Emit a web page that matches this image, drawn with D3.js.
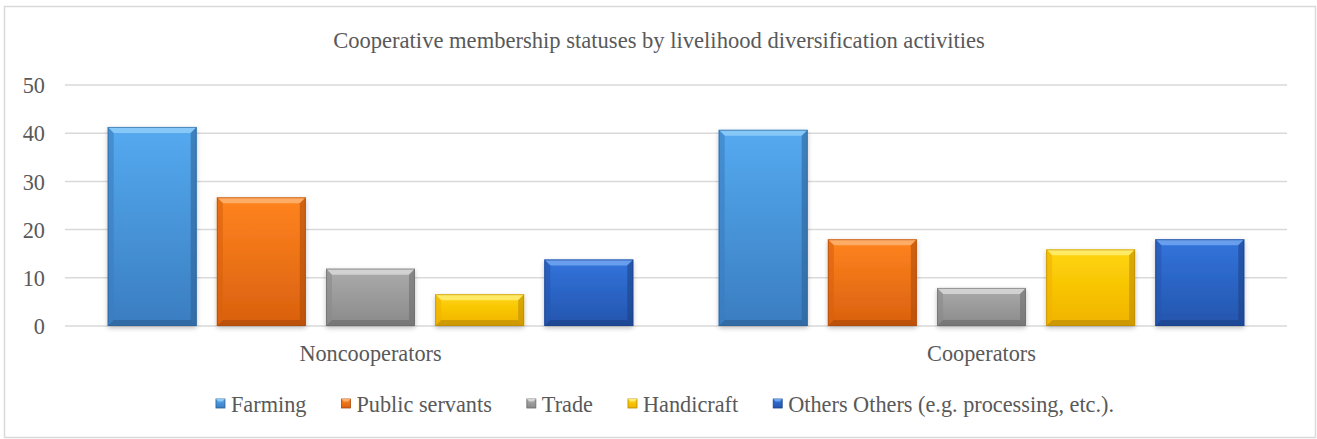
<!DOCTYPE html>
<html><head><meta charset="utf-8">
<script src="https://cdn.jsdelivr.net/npm/d3@7"></script>
<style>html,body{margin:0;padding:0;background:#fff;}svg{display:block;}</style>
</head><body>
<svg id="c" width="1317" height="439"></svg>
<script>
const title = "Cooperative membership statuses by livelihood diversification activities";
const categories = ["Noncooperators", "Cooperators"];
const seriesNames = ["Farming", "Public servants", "Trade", "Handicraft", "Others Others (e.g. processing, etc.)."];
const farming = [41.3, 40.7];
const publicServants = [26.7, 18.0];
const trade = [11.9, 7.9];
const handicraft = [6.6, 15.9];
const others = [13.8, 18.0];
const yTicks = [0, 10, 20, 30, 40, 50];
const seriesValues = [farming, publicServants, trade, handicraft, others];
const colors = [
  {top:"#55AAF0", bot:"#3A7DC0", light:"#8CCBF8", dark:"#2C5F93"},
  {top:"#FF841F", bot:"#D9600E", light:"#FFB070", dark:"#A8480A"},
  {top:"#ABABAB", bot:"#8A8A8A", light:"#D6D6D6", dark:"#6A6A6A"},
  {top:"#FFD60A", bot:"#F0B300", light:"#FFEC70", dark:"#B88700"},
  {top:"#3274DC", bot:"#2455AD", light:"#6EA3EE", dark:"#1B4083"}
];

const FONT = "'Liberation Serif', 'DejaVu Serif', serif";
const TXT = "#595959";
const svg = d3.select("#c");
const defs = svg.append("defs");

colors.forEach((c,i)=>{
  const g = defs.append("linearGradient").attr("id","g"+i).attr("x1",0).attr("y1",0).attr("x2",0).attr("y2",1);
  g.append("stop").attr("offset","0%").attr("stop-color",c.top);
  g.append("stop").attr("offset","100%").attr("stop-color",c.bot);
});
const f = defs.append("filter").attr("id","sh").attr("x","-20%").attr("y","-20%").attr("width","140%").attr("height","140%");
f.append("feGaussianBlur").attr("in","SourceAlpha").attr("stdDeviation",2.5);
f.append("feOffset").attr("dx",0).attr("dy",2).attr("result","b");
f.append("feComponentTransfer").append("feFuncA").attr("type","linear").attr("slope",0.25);
const fm = f.append("feMerge"); fm.append("feMergeNode"); fm.append("feMergeNode").attr("in","SourceGraphic");

// chart border
svg.append("rect").attr("x",4.5).attr("y",6.5).attr("width",1311).attr("height",431)
  .attr("fill","#fff").attr("stroke","#D9D9D9").attr("stroke-width",1.5);

// helper to fit text width
function fitSize(text, target, base){
  const t = svg.append("text").attr("font-family",FONT).attr("font-size",base).text(text);
  const w = t.node().getComputedTextLength(); t.remove();
  return base*target/w;
}

const plot = {left:65, right:1287, top:85, bottom:326};
const x0 = d3.scaleBand().domain(categories).range([plot.left, plot.right]).padding(0);
const bw = x0.bandwidth();
const outer = bw*0.0699;
const x1 = d3.scaleBand().domain(d3.range(seriesNames.length)).range([outer, bw-outer]).paddingInner(0.185).paddingOuter(0);
const y = d3.scaleLinear().domain([0,50]).range([plot.bottom, plot.top]);

// title
const tSize = fitSize(title, 652, 16);
svg.append("text").attr("x",659).attr("y",48).attr("text-anchor","middle")
  .attr("font-family",FONT).attr("font-size",tSize).attr("fill",TXT).text(title);

// gridlines
svg.append("g").selectAll("line").data(yTicks).join("line")
  .attr("x1",plot.left).attr("x2",plot.right)
  .attr("y1",d=>y(d)).attr("y2",d=>y(d))
  .attr("stroke","#D9D9D9").attr("stroke-width",1.5);

// y axis labels
const lblSize = fitSize("Others Others (e.g. processing, etc.).", 326, 16);
const yAxis = d3.axisLeft(y).tickValues(yTicks).tickSize(0).tickPadding(0);
const ya = svg.append("g").attr("transform",`translate(${plot.left-20},0)`).call(yAxis);
ya.select(".domain").remove();
ya.selectAll("text").attr("font-family",FONT).attr("font-size",lblSize).attr("fill",TXT).attr("text-anchor","end").attr("dy","0.35em");

// bars
const bevel = 6;
categories.forEach((cat,ci)=>{
  seriesValues.forEach((vals,si)=>{
    const v = vals[ci];
    const xl = x0(cat)+x1(si), w = x1.bandwidth();
    const yt = y(v), yb = y(0), h = yb-yt;
    const c = colors[si];
    const g = svg.append("g");
    g.append("rect").attr("x",xl).attr("y",yt).attr("width",w).attr("height",h)
      .attr("fill","url(#g"+si+")").attr("filter","url(#sh)");
    const b = Math.min(bevel, h/2);
    // top bevel
    g.append("polygon").attr("points",[[xl,yt],[xl+w,yt],[xl+w-b,yt+b],[xl+b,yt+b]].join(" "))
      .attr("fill",c.light).attr("opacity",0.9);
    // left bevel
    g.append("polygon").attr("points",[[xl,yt],[xl+b,yt+b],[xl+b,yb-b],[xl,yb]].join(" "))
      .attr("fill",c.bot).attr("opacity",0.6);
    // right bevel
    g.append("polygon").attr("points",[[xl+w,yt],[xl+w-b,yt+b],[xl+w-b,yb-b],[xl+w,yb]].join(" "))
      .attr("fill",c.dark).attr("opacity",0.55);
    // bottom bevel
    g.append("polygon").attr("points",[[xl,yb],[xl+b,yb-b],[xl+w-b,yb-b],[xl+w,yb]].join(" "))
      .attr("fill",c.dark).attr("opacity",0.6);
    g.append("rect").attr("x",xl+0.5).attr("y",yt+0.5).attr("width",w-1).attr("height",h-1)
      .attr("fill","none").attr("stroke",c.dark).attr("stroke-opacity",0.6).attr("stroke-width",1);
  });
});

// category axis labels
const xAxis = d3.axisBottom(x0).tickSize(0).tickPadding(0);
const xa = svg.append("g").attr("transform",`translate(0,${plot.bottom+27})`).call(xAxis);
xa.select(".domain").remove();
xa.selectAll("text").attr("font-family",FONT).attr("font-size",lblSize).attr("fill",TXT).attr("dy","0.35em");

// legend
const legY = 404;
const mW = 9, mGap = 7, itemGap = 34;
const widths = seriesNames.map(n=>{
  const t = svg.append("text").attr("font-family",FONT).attr("font-size",lblSize).text(n);
  const w = t.node().getComputedTextLength(); t.remove(); return w;
});
const total = d3.sum(widths) + seriesNames.length*(mW+mGap) + (seriesNames.length-1)*itemGap;
let lx = 665.5 - total/2;
const leg = svg.append("g");
seriesNames.forEach((n,i)=>{
  const c = colors[i];
  leg.append("rect").attr("x",lx).attr("y",legY-5).attr("width",mW).attr("height",mW)
    .attr("fill","url(#g"+i+")").attr("stroke",c.dark).attr("stroke-width",0.8);
  leg.append("polygon").attr("points",[[lx,legY-5],[lx+mW,legY-5],[lx+mW-2.5,legY-2.5],[lx+2.5,legY-2.5]].join(" ")).attr("fill",c.light);
  leg.append("text").attr("x",lx+mW+mGap-1).attr("y",legY).attr("dy","0.35em")
    .attr("font-family",FONT).attr("font-size",lblSize).attr("fill",TXT).text(n);
  lx += mW + mGap + widths[i] + itemGap;
});
</script>
</body></html>
